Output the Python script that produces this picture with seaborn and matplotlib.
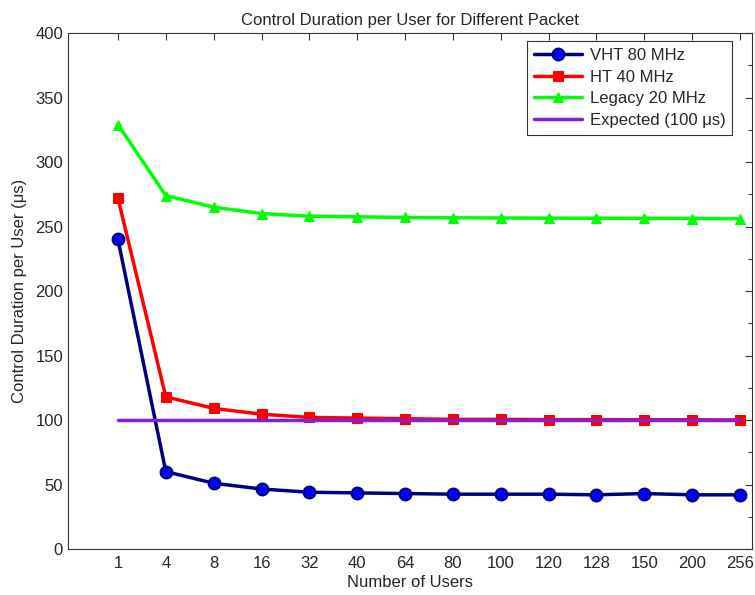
import numpy as np
import pandas as pd
import matplotlib
matplotlib.use("Agg")
import matplotlib.pyplot as plt
import seaborn as sns
from matplotlib.ticker import MultipleLocator

users = ["1", "4", "8", "16", "32", "40", "64", "80", "100", "120", "128", "150", "200", "256"]
vht = [240, 60, 51, 46.5, 44, 43.5, 43, 42.5, 42.5, 42.5, 42, 43, 42, 42]
ht = [272, 118, 109, 104.5, 102, 101.5, 101, 100.5, 100.5, 100.3, 100.3, 100.2, 100.2, 100]
legacy = [329, 274, 265, 260, 258, 257.5, 257, 256.8, 256.6, 256.5, 256.4, 256.3, 256.2, 256]
expected = [100] * len(users)

series_names = ["VHT 80 MHz", "HT 40 MHz", "Legacy 20 MHz", "Expected (100 \u03bcs)"]
series_vals = [vht, ht, legacy, expected]

sns.set_theme(style="white")
plt.rcParams["font.family"] = ["Liberation Sans", "DejaVu Sans"]

pos = np.arange(len(users))
frames = []
for name, vals in zip(series_names, series_vals):
    frames.append(pd.DataFrame({"pos": pos, "value": vals, "series": name}))
df = pd.concat(frames, ignore_index=True)

fig = plt.figure(figsize=(7.55, 5.95), dpi=100)
ax = fig.add_axes([0.090, 0.0773, 0.906, 0.8672])

styles = {
    "VHT 80 MHz": dict(color="#000080", marker="o", markerfacecolor="#0000FF", markeredgecolor="#000080", markersize=8.5, markeredgewidth=1.5),
    "HT 40 MHz": dict(color="#FF0000", marker="s", markerfacecolor="#FF0000", markeredgecolor="#FF0000", markersize=7.5),
    "Legacy 20 MHz": dict(color="#00FF00", marker="^", markerfacecolor="#00FF00", markeredgecolor="#00FF00", markersize=7.5),
    "Expected (100 \u03bcs)": dict(color="#8020E0", marker=None),
}

for name in series_names:
    sub = df[df["series"] == name]
    st = styles[name]
    sns.lineplot(data=sub, x="pos", y="value", ax=ax, label=name, linewidth=2.5,
                 estimator=None, sort=False, **st)

ax.set_xlim(-1.045, 13.25)
ax.set_ylim(0, 400)
ax.set_xticks(pos)
ax.set_xticklabels(users)
ax.yaxis.set_major_locator(MultipleLocator(50))
ax.yaxis.set_minor_locator(MultipleLocator(25))
ax.tick_params(axis="both", which="both", direction="in", top=True, right=True,
               labelsize=12, length=5, width=0.8, color="#333333")
ax.tick_params(axis="y", which="minor", length=3)
ax.tick_params(axis="x", pad=5)
for sp in ax.spines.values():
    sp.set_color("#333333")
    sp.set_linewidth(0.8)

ax.set_title("Control Duration per User for Different Packet", fontsize=12, pad=6)
ax.set_xlabel("Number of Users", fontsize=12, labelpad=3)
ax.set_ylabel("Control Duration per User (\u03bcs)", fontsize=12, labelpad=6)

leg = ax.legend(loc="upper right", fontsize=12, frameon=True, fancybox=False,
                edgecolor="black", handlelength=2.9, borderpad=0.4, labelspacing=0.4,
                handletextpad=0.45, borderaxespad=0, bbox_to_anchor=(0.971, 0.984))
leg.get_frame().set_linewidth(0.8)

fig.savefig("out.png", dpi=100)
